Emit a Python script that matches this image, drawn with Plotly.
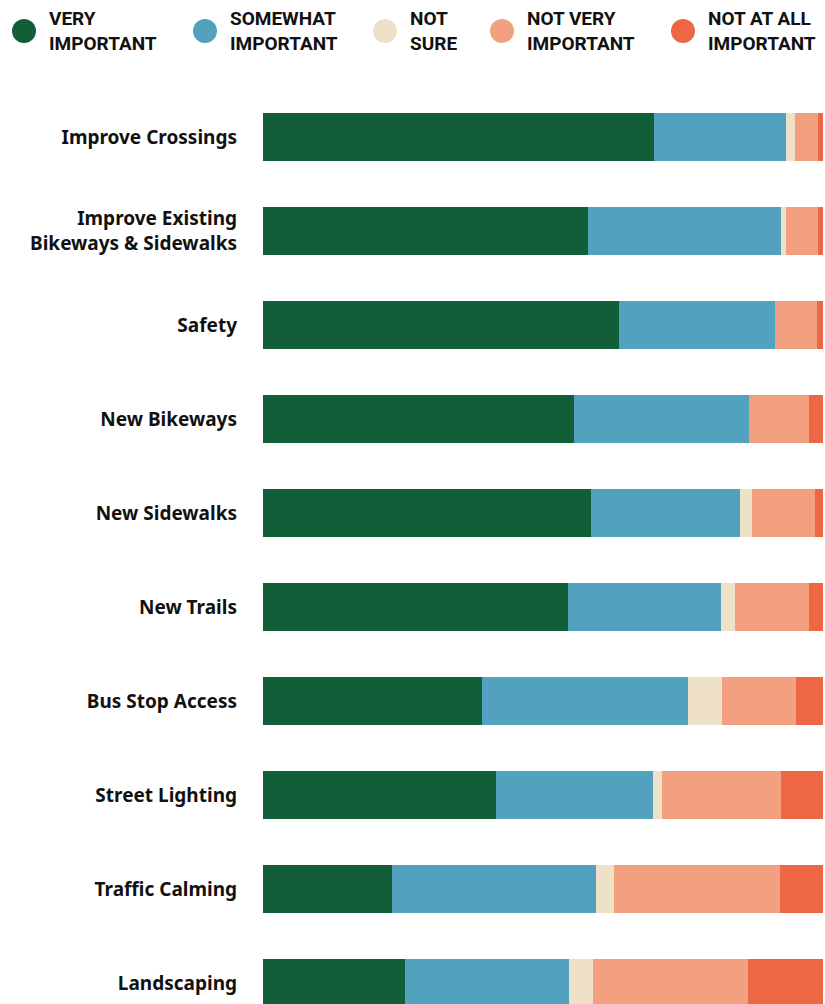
import plotly.graph_objects as go

# survey answers, percent of respondents per project type
categories = ["Improve Crossings", "Improve Existing<br>Bikeways & Sidewalks", "Safety",
              "New Bikeways", "New Sidewalks", "New Trails", "Bus Stop Access",
              "Street Lighting", "Traffic Calming", "Landscaping"]
very_important = [69.8, 58.0, 63.5, 55.5, 58.5, 54.4, 39.1, 41.6, 23.1, 25.3]
somewhat_important = [23.6, 34.5, 27.9, 31.3, 26.7, 27.3, 36.8, 28.0, 36.4, 29.3]
not_sure = [1.6, 0.9, 0.0, 0.0, 2.2, 2.6, 6.0, 1.6, 3.1, 4.4]
not_very_important = [4.1, 5.7, 7.6, 10.7, 11.1, 13.2, 13.2, 21.3, 29.7, 27.6]
not_at_all_important = [0.9, 0.9, 1.0, 2.5, 1.5, 2.5, 4.9, 7.5, 7.7, 13.4]

series_names = ["VERY<br>IMPORTANT", "SOMEWHAT<br>IMPORTANT", "NOT<br>SURE",
                "NOT VERY<br>IMPORTANT", "NOT AT ALL<br>IMPORTANT"]
colors = ["#125E38", "#52A2BF", "#EEE1C8", "#F3A080", "#EE6744"]
series = [very_important, somewhat_important, not_sure, not_very_important, not_at_all_important]

W, H = 825, 1004
ML, MR, MT, MB = 263, 2, 90, 0

fig = go.Figure()
for name, vals, col in zip(series_names, series, colors):
    fig.add_trace(go.Bar(y=categories, x=vals, orientation="h", name=name,
                         marker=dict(color=col, line=dict(width=0)),
                         width=0.51, showlegend=False))

# hand made legend: circles + two line labels along the top
def px_to_paper(px, py):
    return (px - ML) / (W - ML - MR), (H - MB - py) / (H - MT - MB)

legend_x = [24, 205, 385, 502, 683]
for name, col, cx in zip(series_names, colors, legend_x):
    xp, yp = px_to_paper(cx, 31)
    fig.add_shape(type="circle", xref="paper", yref="paper", xsizemode="pixel", ysizemode="pixel",
                  xanchor=xp, yanchor=yp, x0=-12, x1=12, y0=-12, y1=12,
                  fillcolor=col, line=dict(width=0))
    tx, ty = px_to_paper(cx + 23, 31)
    fig.add_annotation(x=tx, y=ty, xref="paper", yref="paper", text=name, showarrow=False,
                       xanchor="left", yanchor="middle", align="left",
                       font=dict(family="Roboto", size=19, color="#111111", weight="bold"))

fig.update_layout(
    barmode="stack",
    width=W, height=H,
    margin=dict(l=ML, r=MR, t=MT, b=MB),
    plot_bgcolor="white", paper_bgcolor="white",
)
fig.update_xaxes(range=[0, 100], visible=False, fixedrange=True)
fig.update_yaxes(type="category", range=[9.223, -0.5], showgrid=False, zeroline=False,
                 showline=False, ticks="", ticklabelstandoff=25,
                 tickfont=dict(family="Noto Sans", size=19, color="#111111", weight="bold"))

# drop the default body margin so the figure fills the window exactly
fig.write_html("out.html", config={"displayModeBar": False},
               post_script="document.body.style.margin='0';document.body.style.overflow='hidden';")
